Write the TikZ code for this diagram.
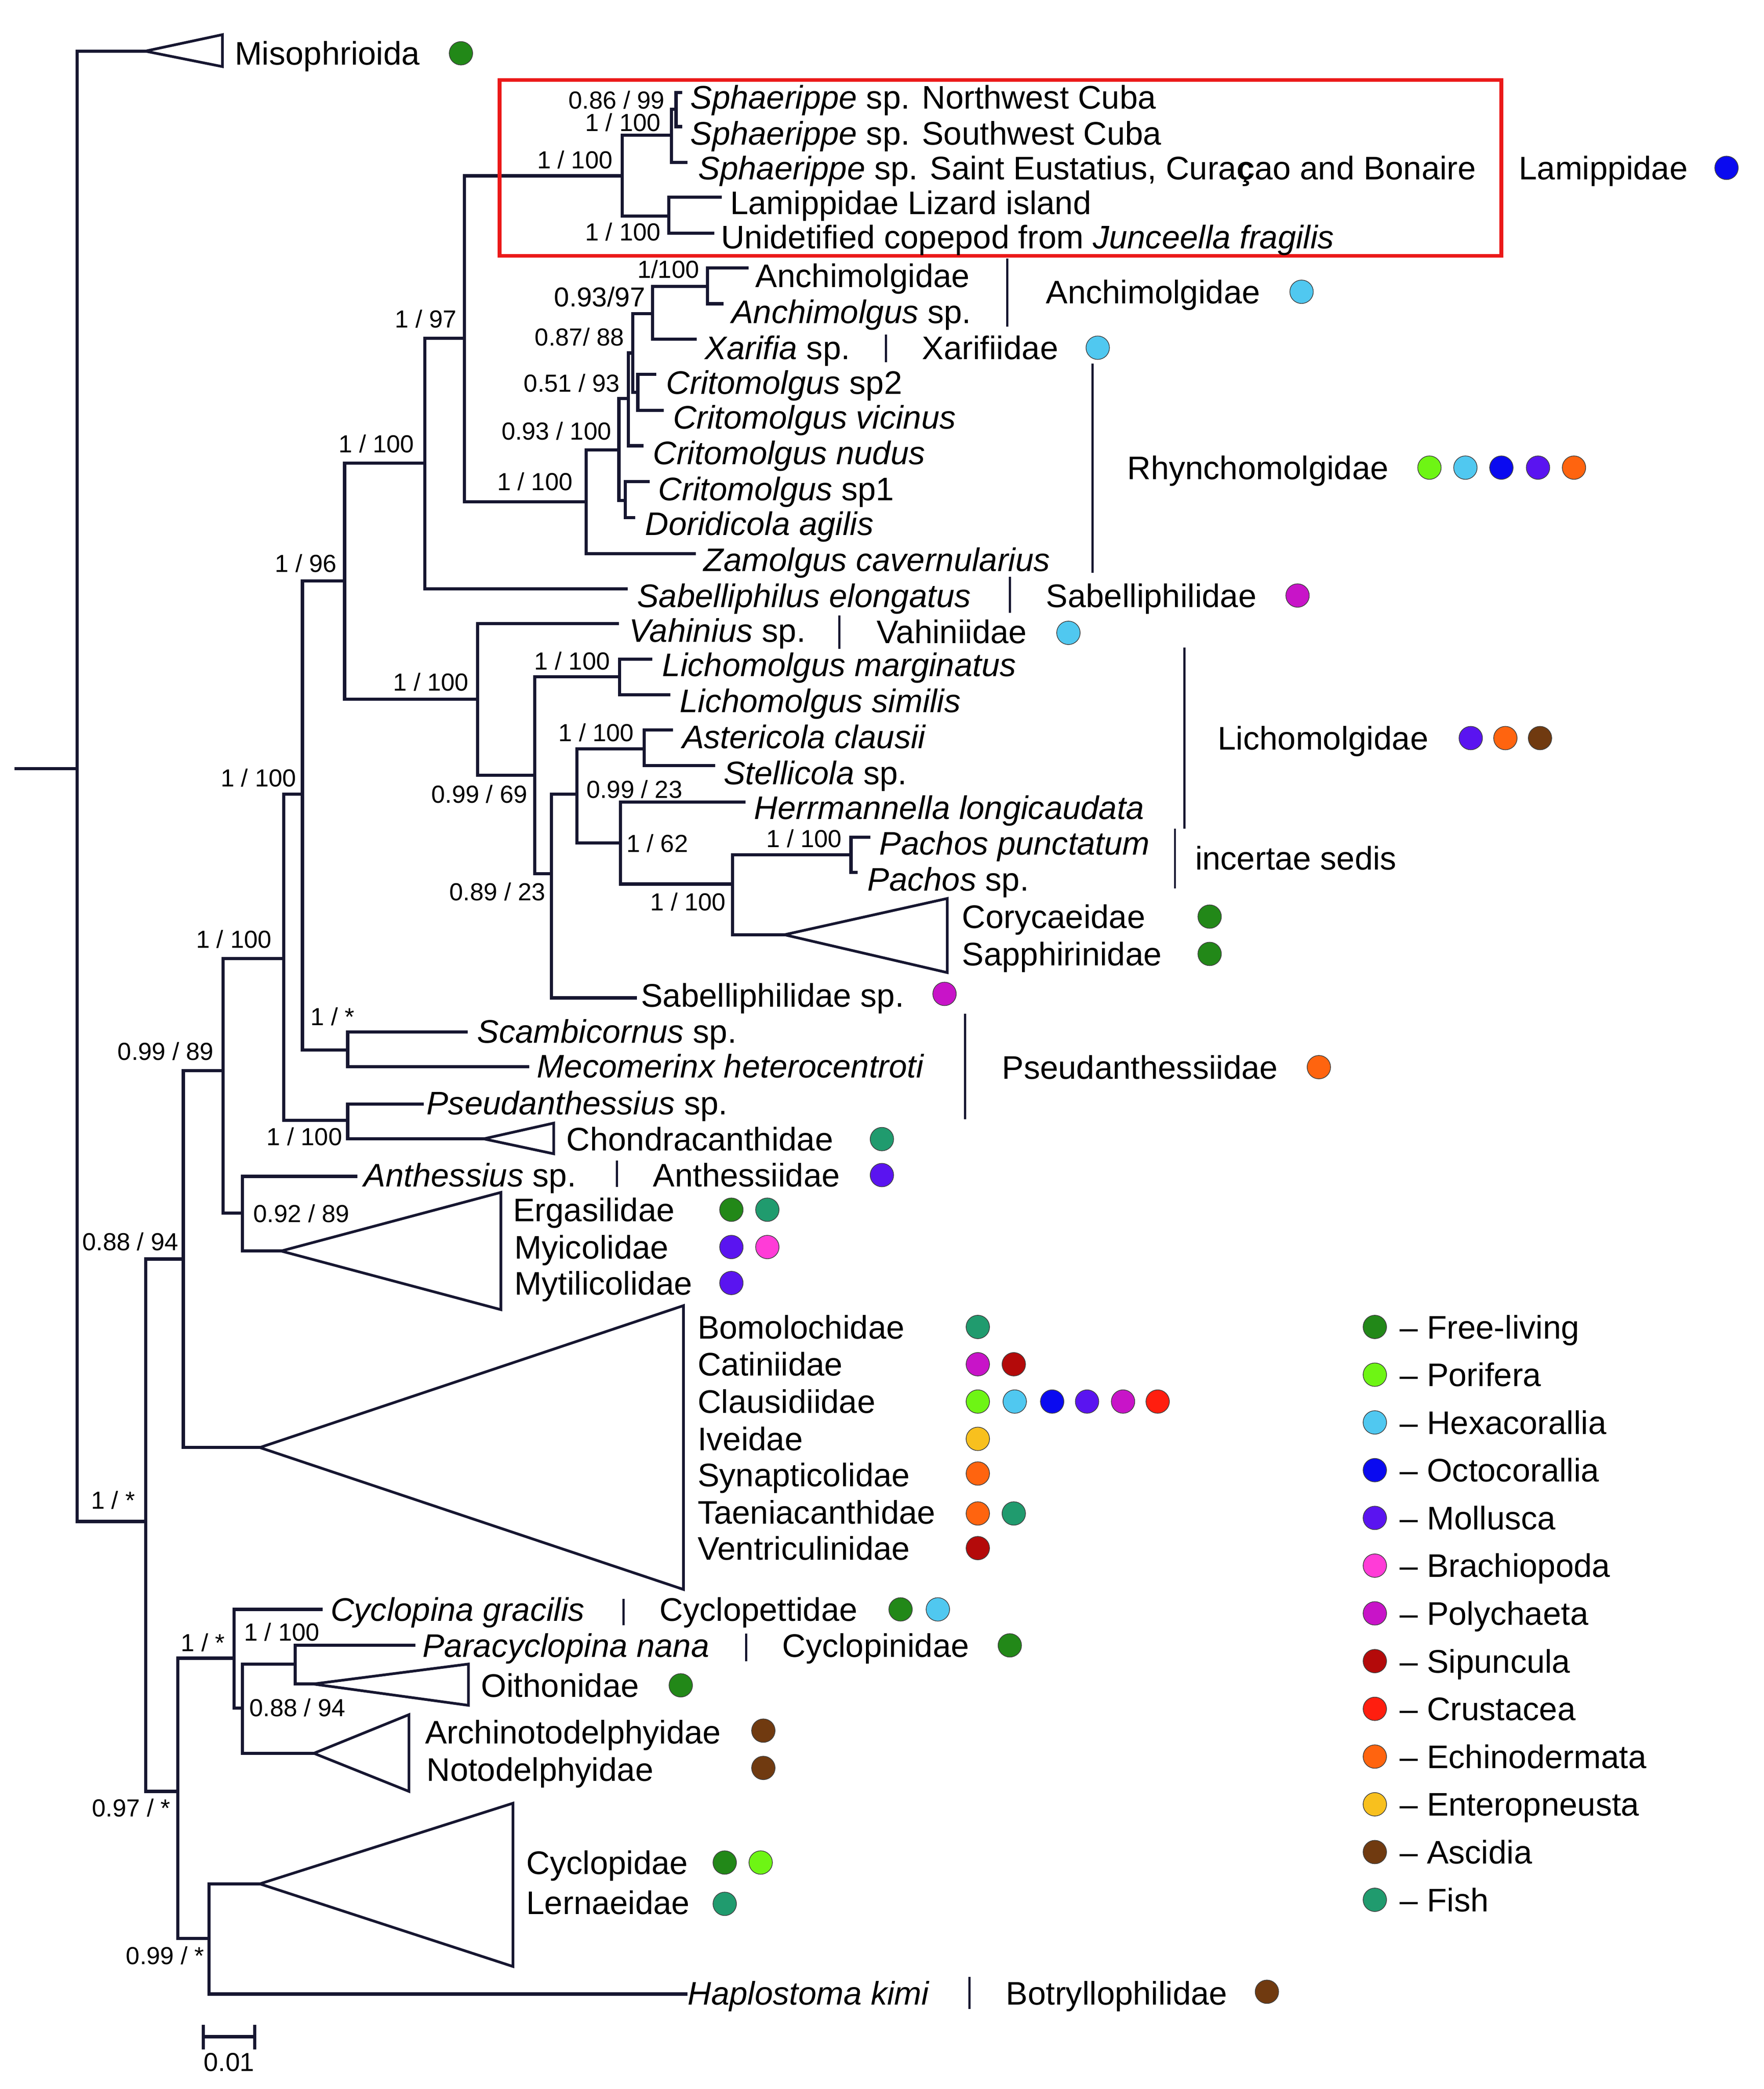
\documentclass[tikz,border=0pt]{standalone}
\usepackage{fontspec}
\setmainfont{Liberation Sans}
\definecolor{cFree}{RGB}{34,136,24}
\definecolor{cPor}{RGB}{110,245,20}
\definecolor{cHex}{RGB}{80,200,240}
\definecolor{cOct}{RGB}{10,10,240}
\definecolor{cMol}{RGB}{90,20,240}
\definecolor{cBra}{RGB}{255,60,215}
\definecolor{cPol}{RGB}{200,20,200}
\definecolor{cSip}{RGB}{180,10,10}
\definecolor{cCru}{RGB}{255,30,15}
\definecolor{cEch}{RGB}{255,100,15}
\definecolor{cEnt}{RGB}{248,192,30}
\definecolor{cAsc}{RGB}{112,58,16}
\definecolor{cFish}{RGB}{32,155,110}
\definecolor{treec}{RGB}{22,22,48}
\definecolor{boxred}{RGB}{235,25,25}
\tikzset{
  br/.style={line width=2.4pt, draw=treec, line cap=rect},
  tri/.style={line width=2pt, draw=treec, line join=miter},
  famb/.style={line width=1.6pt, draw=treec},
  tip/.style={anchor=west, inner sep=0pt, text height=17.5pt, text depth=0pt, font=\fontsize{24.5}{29}\selectfont},
  supp/.style={inner sep=0pt, text height=13.2pt, text depth=0pt, font=\fontsize{18.5}{22}\selectfont},
  dotn/.style={circle, inner sep=0pt, minimum size=17.6pt, draw=black!75, line width=0.5pt}
}
\begin{document}
\begin{tikzpicture}[x=1pt,y=-1pt]
\useasboundingbox (0,0) rectangle (1324,1568);
% ---------- coordinates ----------
\coordinate (stub) at (12,577);
\coordinate (R) at (58,577);
\coordinate (MisoA) at (109,38.4);
\coordinate (MisoT) at (167,26); \coordinate (MisoB) at (167,50);
\coordinate (NA) at (109.5,1142);
\coordinate (NB) at (137.6,945);
\coordinate (NC) at (133.4,1344.6);
\coordinate (ND) at (167.4,803.6);
\coordinate (BigA) at (195,1086.5);
\coordinate (BigT) at (513,980); \coordinate (BigB) at (513,1193);
\coordinate (NE) at (213,719.5);
\coordinate (NF) at (182,910.6);
\coordinate (tAnth) at (267,883);
\coordinate (ErgA) at (211,939);
\coordinate (ErgT) at (376,895); \coordinate (ErgB) at (376,983);
\coordinate (NG) at (227,596);
\coordinate (NH) at (261,841);
\coordinate (tPseu) at (317,828.6);
\coordinate (ChoA) at (363,854.8);
\coordinate (ChoT) at (415.6,843); \coordinate (ChoB) at (415.6,866);
\coordinate (NI) at (258.7,436);
\coordinate (NJ) at (261,788);
\coordinate (tScam) at (350,774.5);
\coordinate (tMeco) at (396,800.6);
\coordinate (NK) at (319,347.6);
\coordinate (NL) at (358.4,524.8);
\coordinate (NM) at (348.6,253.8);
\coordinate (tSabe) at (470,442);
\coordinate (NLam) at (467,132);
\coordinate (NN) at (440,376.6);
\coordinate (NSph) at (504,101.5);
\coordinate (NLiz) at (502,162.2);
\coordinate (NCub) at (507.5,82);
\coordinate (tNW) at (511,69.5);
\coordinate (tSW) at (511,95);
\coordinate (tSE) at (515,122);
\coordinate (tLiz) at (540.6,148);
\coordinate (tUni) at (535,175);
\coordinate (N1) at (464.6,337.8);
\coordinate (tZam) at (521,415.5);
\coordinate (N2) at (471.8,299);
\coordinate (Nsp1) at (469.3,375.6);
\coordinate (tsp1) at (486.6,361.5);
\coordinate (tDor) at (475.6,388.5);
\coordinate (N3) at (475,265);
\coordinate (tNud) at (481.8,334.6);
\coordinate (N4) at (489.8,235.5);
\coordinate (N5) at (478.8,294.5);
\coordinate (NAnc) at (531,215);
\coordinate (tXar) at (521.7,254.5);
\coordinate (tAnc1) at (560.8,201);
\coordinate (tAnc2) at (541.9,228);
\coordinate (tsp2) at (491.5,281);
\coordinate (tVic) at (497,308);
\coordinate (tVah) at (463.4,468);
\coordinate (NO) at (401.4,582);
\coordinate (NLich) at (465,508);
\coordinate (NP) at (414,655.8);
\coordinate (tMar) at (488.5,494.7);
\coordinate (tSim) at (502,521.6);
\coordinate (NQ) at (433,596);
\coordinate (tSabsp) at (477,749);
\coordinate (NAst) at (483.5,562);
\coordinate (NR) at (465.7,632.6);
\coordinate (tAst) at (504,547.8);
\coordinate (tSte) at (535.8,574.7);
\coordinate (tHer) at (558.5,602);
\coordinate (NS) at (549.8,663.6);
\coordinate (NPach) at (638.8,641.6);
\coordinate (CorA) at (588.8,701.6);
\coordinate (CorT) at (711,674.4); \coordinate (CorB) at (711,730);
\coordinate (tPun) at (652,628.4);
\coordinate (tPsp) at (642.6,654.8);
\coordinate (NT) at (175.8,1244.6);
\coordinate (NU) at (157,1455);
\coordinate (CycA) at (195,1414);
\coordinate (CycT) at (385,1353.5); \coordinate (CycB) at (385,1476);
\coordinate (tHap) at (515,1496.7);
\coordinate (tCyg) at (241,1208);
\coordinate (NV) at (182,1282);
\coordinate (NW) at (221.6,1249);
\coordinate (ArcA) at (235.6,1316);
\coordinate (ArcT) at (307,1287); \coordinate (ArcB) at (307,1344.6);
\coordinate (tPar) at (310.7,1235);
\coordinate (OitA) at (235,1264);
\coordinate (OitT) at (351.6,1249); \coordinate (OitB) at (351.6,1280);
% ---------- branches ----------
\draw[br] (stub) -- (R);
\draw[br] (R) |- (MisoA); \draw[br] (R) |- (NA);
\draw[br] (NA) |- (NB); \draw[br] (NA) |- (NC);
\draw[br] (NB) |- (ND); \draw[br] (NB) |- (BigA);
\draw[br] (ND) |- (NE); \draw[br] (ND) |- (NF);
\draw[br] (NF) |- (tAnth); \draw[br] (NF) |- (ErgA);
\draw[br] (NE) |- (NG); \draw[br] (NE) |- (NH);
\draw[br] (NH) |- (tPseu); \draw[br] (NH) |- (ChoA);
\draw[br] (NG) |- (NI); \draw[br] (NG) |- (NJ);
\draw[br] (NJ) |- (tScam); \draw[br] (NJ) |- (tMeco);
\draw[br] (NI) |- (NK); \draw[br] (NI) |- (NL);
\draw[br] (NK) |- (NM); \draw[br] (NK) |- (tSabe);
\draw[br] (NM) |- (NLam); \draw[br] (NM) |- (NN);
\draw[br] (NLam) |- (NSph); \draw[br] (NLam) |- (NLiz);
\draw[br] (NSph) |- (NCub); \draw[br] (NSph) |- (tSE);
\draw[br] (NCub) |- (tNW); \draw[br] (NCub) |- (tSW);
\draw[br] (NLiz) |- (tLiz); \draw[br] (NLiz) |- (tUni);
\draw[br] (NN) |- (N1); \draw[br] (NN) |- (tZam);
\draw[br] (N1) |- (N2); \draw[br] (N1) |- (Nsp1);
\draw[br] (Nsp1) |- (tsp1); \draw[br] (Nsp1) |- (tDor);
\draw[br] (N2) |- (N3); \draw[br] (N2) |- (tNud);
\draw[br] (N3) |- (N4); \draw[br] (N3) |- (N5);
\draw[br] (N4) |- (NAnc); \draw[br] (N4) |- (tXar);
\draw[br] (NAnc) |- (tAnc1); \draw[br] (NAnc) |- (tAnc2);
\draw[br] (N5) |- (tsp2); \draw[br] (N5) |- (tVic);
\draw[br] (NL) |- (tVah); \draw[br] (NL) |- (NO);
\draw[br] (NO) |- (NLich); \draw[br] (NO) |- (NP);
\draw[br] (NLich) |- (tMar); \draw[br] (NLich) |- (tSim);
\draw[br] (NP) |- (NQ); \draw[br] (NP) |- (tSabsp);
\draw[br] (NQ) |- (NAst); \draw[br] (NQ) |- (NR);
\draw[br] (NAst) |- (tAst); \draw[br] (NAst) |- (tSte);
\draw[br] (NR) |- (tHer); \draw[br] (NR) |- (NS);
\draw[br] (NS) |- (NPach); \draw[br] (NS) |- (CorA);
\draw[br] (NPach) |- (tPun); \draw[br] (NPach) |- (tPsp);
\draw[br] (NC) |- (NT); \draw[br] (NC) |- (NU);
\draw[br] (NU) |- (CycA); \draw[br] (NU) |- (tHap);
\draw[br] (NT) |- (tCyg); \draw[br] (NT) |- (NV);
\draw[br] (NV) |- (NW); \draw[br] (NV) |- (ArcA);
\draw[br] (NW) |- (tPar); \draw[br] (NW) |- (OitA);
% ---------- collapsed clades ----------
\draw[tri] (MisoA) -- (MisoT) -- (MisoB) -- cycle;
\draw[tri] (BigA) -- (BigT) -- (BigB) -- cycle;
\draw[tri] (ErgA) -- (ErgT) -- (ErgB) -- cycle;
\draw[tri] (ChoA) -- (ChoT) -- (ChoB) -- cycle;
\draw[tri] (CorA) -- (CorT) -- (CorB) -- cycle;
\draw[tri] (CycA) -- (CycT) -- (CycB) -- cycle;
\draw[tri] (ArcA) -- (ArcT) -- (ArcB) -- cycle;
\draw[tri] (OitA) -- (OitT) -- (OitB) -- cycle;
% ---------- red box ----------
\draw[boxred, line width=2.8pt] (375,60) rectangle (1127,192);
% ---------- family bars ----------
\draw[famb] (756,194) -- (756,245);
\draw[famb] (665,251) -- (665,272);
\draw[famb] (820,273) -- (820,430);
\draw[famb] (758,433) -- (758,460);
\draw[famb] (630,462) -- (630,487);
\draw[famb] (889,486) -- (889,622);
\draw[famb] (882,622) -- (882,667);
\draw[famb] (724.5,761) -- (724.5,840);
\draw[famb] (463,871) -- (463,891);
\draw[famb] (468,1200) -- (468,1220);
\draw[famb] (560,1226) -- (560,1247);
\draw[famb] (727.7,1484) -- (727.7,1508);
% ---------- scale bar ----------
\coordinate (sb1) at (152.7,1528.7); \coordinate (sb2) at (191.3,1528.7);
\draw[br, line cap=butt] (sb1) -- (sb2);
\draw[br, line cap=butt] ([yshift=9pt]sb1) -- ([yshift=-9.5pt]sb1);
\draw[br, line cap=butt] ([yshift=9pt]sb2) -- ([yshift=-9.5pt]sb2);
\node[supp, font=\fontsize{19.5}{23}\selectfont] (sbl) at (172,1548) {0.01};
% ---------- tip labels ----------
\node[tip] (lMiso) at (176,40) {Misophrioida};
\node[tip] (lNW) at (518,73) {\textit{Sphaerippe} sp. Northwest Cuba};
\node[tip] (lSW) at (518,100) {\textit{Sphaerippe} sp. Southwest Cuba};
\node[tip] (lSE) at (524,126) {\textit{Sphaerippe} sp. Saint Eustatius, Cura\textbf{ç}ao and Bonaire};
\node[tip] (lLiz) at (548,152) {Lamippidae Lizard island};
\node[tip] (lUni) at (541,178) {Unidetified copepod from \textit{Junceella fragilis}};
\node[tip] (lAnc1) at (567,207) {Anchimolgidae};
\node[tip] (lAnc2) at (549,234) {\textit{Anchimolgus} sp.};
\node[tip] (lXar) at (529,261) {\textit{Xarifia} sp.};
\node[tip] (lsp2) at (500,287) {\textit{Critomolgus} sp2};
\node[tip] (lVic) at (505,313) {\textit{Critomolgus vicinus}};
\node[tip] (lNud) at (490,340) {\textit{Critomolgus nudus}};
\node[tip] (lsp1) at (494,367) {\textit{Critomolgus} sp1};
\node[tip] (lDor) at (484,393) {\textit{Doridicola agilis}};
\node[tip] (lZam) at (528,420) {\textit{Zamolgus cavernularius}};
\node[tip] (lSabe) at (478,447) {\textit{Sabelliphilus elongatus}};
\node[tip] (lVah) at (472,473) {\textit{Vahinius} sp.};
\node[tip] (lMar) at (497,499) {\textit{Lichomolgus marginatus}};
\node[tip] (lSim) at (510,526) {\textit{Lichomolgus similis}};
\node[tip] (lAst) at (512,553) {\textit{Astericola clausii}};
\node[tip] (lSte) at (543,580) {\textit{Stellicola} sp.};
\node[tip] (lHer) at (566,606) {\textit{Herrmannella longicaudata}};
\node[tip] (lPun) at (660,633) {\textit{Pachos punctatum}};
\node[tip] (lPsp) at (651,660) {\textit{Pachos} sp.};
\node[tip] (lCor) at (722,688) {Corycaeidae};
\node[tip] (lSap) at (722,716) {Sapphirinidae};
\node[tip] (lSabsp) at (481,747) {Sabelliphilidae sp.};
\node[tip] (lScam) at (358,774) {\textit{Scambicornus} sp.};
\node[tip] (lMeco) at (403,800) {\textit{Mecomerinx heterocentroti}};
\node[tip] (lPseu) at (320,828) {\textit{Pseudanthessius} sp.};
\node[tip] (lCho) at (425,855) {Chondracanthidae};
\node[tip] (lAnth) at (273,882) {\textit{Anthessius} sp.};
\node[tip] (lErg) at (385,908) {Ergasilidae};
\node[tip] (lMyi) at (386,936) {Myicolidae};
\node[tip] (lMyt) at (386,963) {Mytilicolidae};
\node[tip] (lBom) at (523.5,996) {Bomolochidae};
\node[tip] (lCat) at (523.5,1024) {Catiniidae};
\node[tip] (lCla) at (523.5,1052) {Clausidiidae};
\node[tip] (lIve) at (523.5,1080) {Iveidae};
\node[tip] (lSyn) at (523.5,1107) {Synapticolidae};
\node[tip] (lTae) at (523.5,1135) {Taeniacanthidae};
\node[tip] (lVen) at (523.5,1162) {Ventriculinidae};
\node[tip] (lCyg) at (248,1208) {\textit{Cyclopina gracilis}};
\node[tip] (lPar) at (317,1235) {\textit{Paracyclopina nana}};
\node[tip] (lOit) at (361,1265) {Oithonidae};
\node[tip] (lArc) at (319,1300) {Archinotodelphyidae};
\node[tip] (lNot) at (320,1328) {Notodelphyidae};
\node[tip] (lCyc) at (395,1398) {Cyclopidae};
\node[tip] (lLer) at (395,1428) {Lernaeidae};
\node[tip] (lHap) at (516,1496) {\textit{Haplostoma kimi}};
% ---------- family labels ----------
\node[tip] (fLam) at (1140,126) {Lamippidae};
\node[tip] (fAnc) at (785,219) {Anchimolgidae};
\node[tip] (fXar) at (692,261) {Xarifiidae};
\node[tip] (fRhy) at (846,351) {Rhynchomolgidae};
\node[tip] (fSab) at (785,447) {Sabelliphilidae};
\node[tip] (fVah) at (658,474) {Vahiniidae};
\node[tip] (fLic) at (914,554) {Lichomolgidae};
\node[tip] (fInc) at (897,644) {incertae sedis};
\node[tip] (fPse) at (752,801) {Pseudanthessiidae};
\node[tip] (fAnt) at (490,882) {Anthessiidae};
\node[tip] (fCyp) at (495,1208) {Cyclopettidae};
\node[tip] (fCyn) at (587,1235) {Cyclopinidae};
\node[tip] (fBot) at (755,1496) {Botryllophilidae};
% ---------- host dots ----------
\node[dotn, fill=cFree] (dMiso) at (346,40) {};
\node[dotn, fill=cOct] (dLam) at (1296,126) {};
\node[dotn, fill=cHex] (dAnc) at (977,219) {};
\node[dotn, fill=cHex] (dXar) at (824,261) {};
\node[dotn, fill=cPor] (dRhy1) at (1073,351) {};
\node[dotn, fill=cHex] (dRhy2) at (1100,351) {};
\node[dotn, fill=cOct] (dRhy3) at (1127,351) {};
\node[dotn, fill=cMol] (dRhy4) at (1154.5,351) {};
\node[dotn, fill=cEch] (dRhy5) at (1181.5,351) {};
\node[dotn, fill=cPol] (dSab) at (974,447) {};
\node[dotn, fill=cHex] (dVah) at (802,475) {};
\node[dotn, fill=cMol] (dLic1) at (1104,554) {};
\node[dotn, fill=cEch] (dLic2) at (1130,554) {};
\node[dotn, fill=cAsc] (dLic3) at (1156,554) {};
\node[dotn, fill=cFree] (dCor) at (908,688) {};
\node[dotn, fill=cFree] (dSap) at (908,716) {};
\node[dotn, fill=cPol] (dSabsp) at (709,746) {};
\node[dotn, fill=cEch] (dPse) at (990,801) {};
\node[dotn, fill=cFish] (dCho) at (662,855) {};
\node[dotn, fill=cMol] (dAnt) at (662,882) {};
\node[dotn, fill=cFree] (dErg1) at (549,908) {};
\node[dotn, fill=cFish] (dErg2) at (576,908) {};
\node[dotn, fill=cMol] (dMyi1) at (549,936) {};
\node[dotn, fill=cBra] (dMyi2) at (576,936) {};
\node[dotn, fill=cMol] (dMyt) at (549,963) {};
\node[dotn, fill=cFish] (dBom) at (734,996) {};
\node[dotn, fill=cPol] (dCat1) at (734,1024) {};
\node[dotn, fill=cSip] (dCat2) at (761,1024) {};
\node[dotn, fill=cPor] (dCla1) at (734,1052) {};
\node[dotn, fill=cHex] (dCla2) at (761.7,1052) {};
\node[dotn, fill=cOct] (dCla3) at (789.8,1052) {};
\node[dotn, fill=cMol] (dCla4) at (816,1052) {};
\node[dotn, fill=cPol] (dCla5) at (843,1052) {};
\node[dotn, fill=cCru] (dCla6) at (869,1052) {};
\node[dotn, fill=cEnt] (dIve) at (734,1080) {};
\node[dotn, fill=cEch] (dSyn) at (734,1106) {};
\node[dotn, fill=cEch] (dTae1) at (734,1136) {};
\node[dotn, fill=cFish] (dTae2) at (761,1136) {};
\node[dotn, fill=cSip] (dVen) at (734,1162) {};
\node[dotn, fill=cFree] (dCyp1) at (676,1208) {};
\node[dotn, fill=cHex] (dCyp2) at (704,1208) {};
\node[dotn, fill=cFree] (dCyn) at (758,1235) {};
\node[dotn, fill=cFree] (dOit) at (511,1265) {};
\node[dotn, fill=cAsc] (dArc) at (573,1299) {};
\node[dotn, fill=cAsc] (dNot) at (573,1327) {};
\node[dotn, fill=cFree] (dCyc1) at (544,1398) {};
\node[dotn, fill=cPor] (dCyc2) at (571,1398) {};
\node[dotn, fill=cFish] (dLer) at (544,1429) {};
\node[dotn, fill=cAsc] (dBot) at (951,1495) {};
% ---------- support values ----------
\node[supp, anchor=east] (s1) at (499,75) {0.86 / 99};
\node[supp, anchor=east] (s2) at (496,92) {1 / 100};
\node[supp, anchor=east] (s3) at (460,120) {1 / 100};
\node[supp, anchor=east] (s4) at (496,174) {1 / 100};
\node[supp, anchor=east] (s5) at (525,202) {1/100};
\node[supp, anchor=east, font=\fontsize{20.5}{24}\selectfont, text height=14.6pt] (s6) at (484.5,223) {0.93/97};
\node[supp, anchor=east] (s7) at (468.6,253) {0.87/ 88};
\node[supp, anchor=east] (s8) at (465.5,287.5) {0.51 / 93};
\node[supp, anchor=east] (s9) at (459,323.6) {0.93 / 100};
\node[supp, anchor=east] (s10) at (430,361.5) {1 / 100};
\node[supp, anchor=east] (s11) at (343,239.4) {1 / 97};
\node[supp, anchor=east] (s12) at (311,333) {1 / 100};
\node[supp, anchor=east] (s13) at (253,423) {1 / 96};
\node[supp, anchor=east] (s14) at (352,512) {1 / 100};
\node[supp, anchor=east] (s15) at (458,496) {1 / 100};
\node[supp, anchor=east] (s16) at (476,550) {1 / 100};
\node[supp, anchor=east] (s17) at (396,596) {0.99 / 69};
\node[supp, anchor=west] (s18) at (440,592.6) {0.99 / 23};
\node[supp, anchor=west] (s19) at (470,633) {1 / 62};
\node[supp, anchor=east] (s20) at (632,629.5) {1 / 100};
\node[supp, anchor=east] (s21) at (545,677) {1 / 100};
\node[supp, anchor=east] (s22) at (409.6,669.4) {0.89 / 23};
\node[supp, anchor=east] (s23) at (222.5,584) {1 / 100};
\node[supp, anchor=east] (s24) at (204,705) {1 / 100};
\node[supp, anchor=west] (s25) at (233,763) {1 / *};
\node[supp, anchor=east] (s26) at (160.6,789) {0.99 / 89};
\node[supp, anchor=east] (s27) at (257,853) {1 / 100};
\node[supp, anchor=west] (s28) at (190,911) {0.92 / 89};
\node[supp, anchor=east] (s29) at (134,932) {0.88 / 94};
\node[supp, anchor=east] (s30) at (101.5,1126) {1 / *};
\node[supp, anchor=east] (s31) at (128,1357) {0.97 / *};
\node[supp, anchor=east] (s32) at (169,1233) {1 / *};
\node[supp, anchor=west] (s33) at (183,1225) {1 / 100};
\node[supp, anchor=west] (s34) at (187,1281.6) {0.88 / 94};
\node[supp, anchor=east] (s35) at (153.5,1468) {0.99 / *};
% ---------- legend ----------
\foreach \c/\t [count=\i] in {cFree/Free-living, cPor/Porifera, cHex/Hexacorallia, cOct/Octocorallia, cMol/Mollusca, cBra/Brachiopoda, cPol/Polychaeta, cSip/Sipuncula, cCru/Crustacea, cEch/Echinodermata, cEnt/Enteropneusta, cAsc/Ascidia, cFish/Fish}{
  \node[dotn, fill=\c] (ld\i) at (1032,{996+(\i-1)*35.83}) {};
  \node[tip] (lt\i) at (1050.5,{996+(\i-1)*35.83}) {\textendash{} \t};
}
\end{tikzpicture}
\end{document}
